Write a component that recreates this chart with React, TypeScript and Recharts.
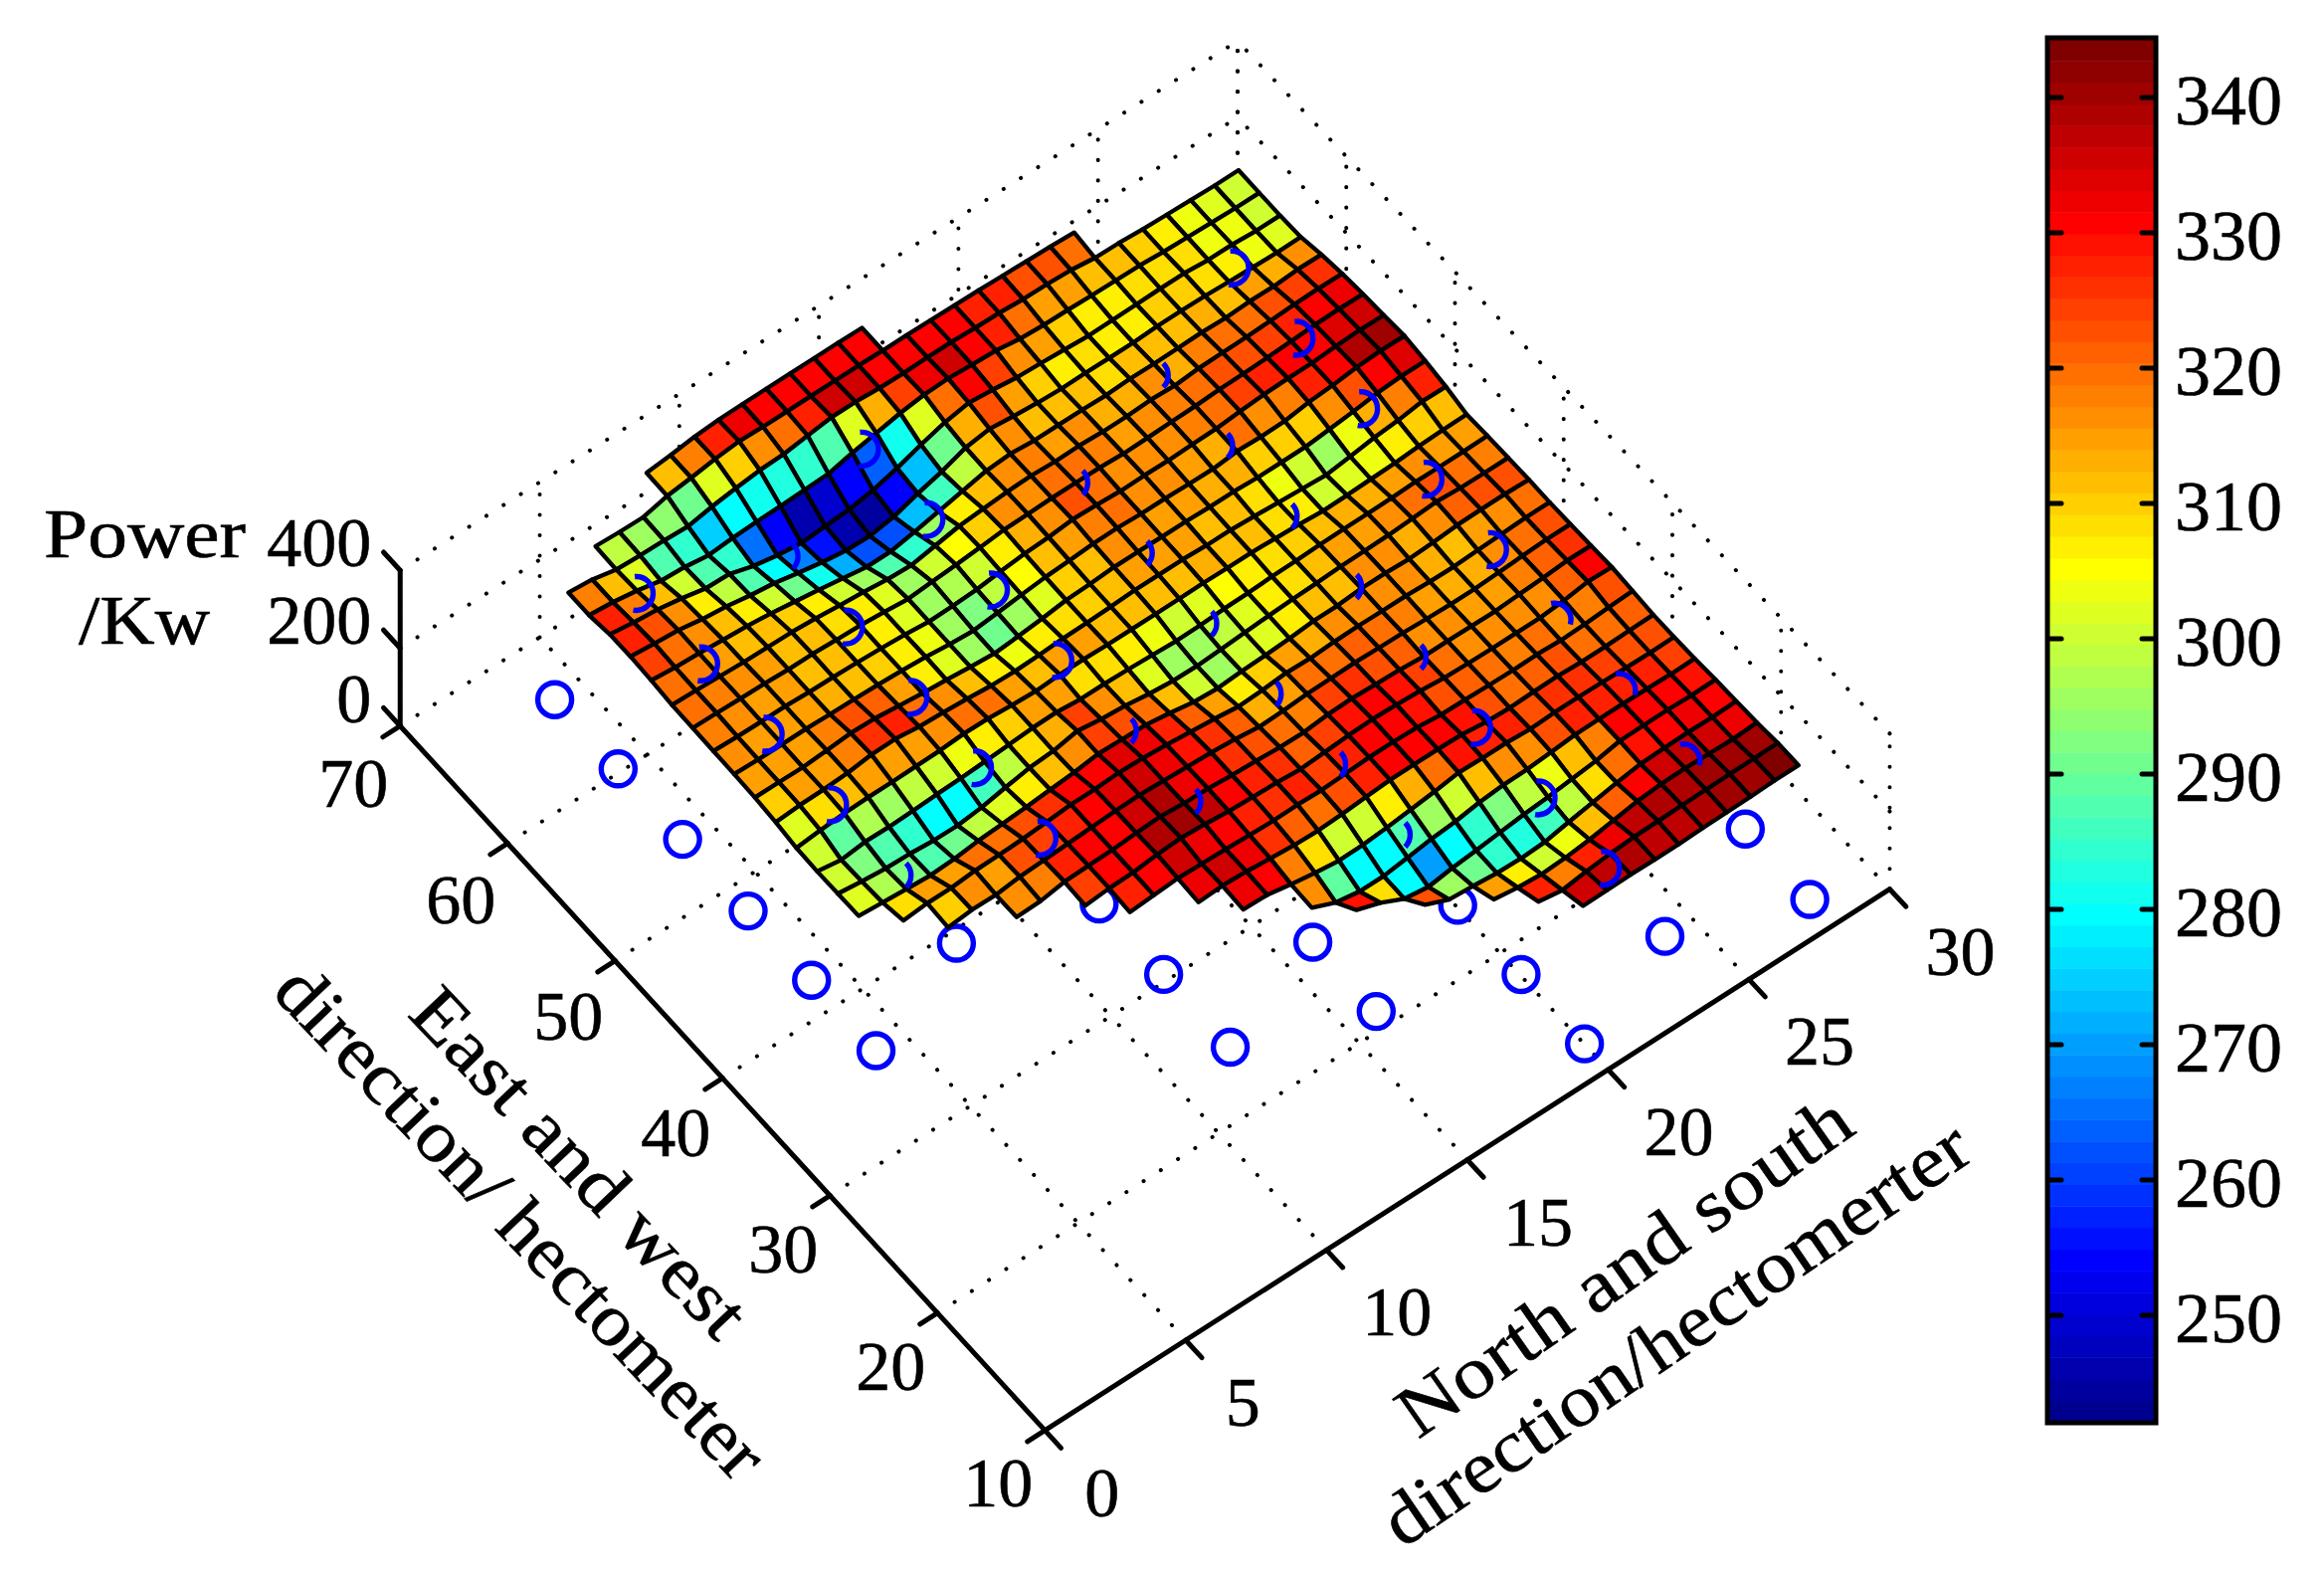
import { ScatterChart, Scatter, XAxis, YAxis } from 'recharts'

const WIDTH = 2336
const HEIGHT = 1583
const K = WIDTH / 1568

// axis values
const EW_TICKS = [10, 20, 30, 40, 50, 60, 70]
const NS_TICKS = [0, 5, 10, 15, 20, 25, 30]
const POWER_TICKS = [0, 200, 400]
const COLORBAR_TICKS = [250, 260, 270, 280, 290, 300, 310, 320, 330, 340]
const COLOR_MIN = 242.1
const COLOR_MAX = 344.3

// surface sampling
const NS_START = 3.8
const NS_STEP = 0.85
const EW_START = 12.2
const EW_STEP = 1.93

// first north-south index that each east-west row starts at
const ROW_START = [19, 18, 17, 15, 13, 12, 10, 9, 7, 6, 4, 2, 1, 0, 0, 0, 0, 0, 0, 0, 0, 0, 0, 0, 0, 0, 0, 0, 2, 5]

// power, one list per east-west row
const POWER_ROW_00 = [336, 337, 338, 337, 337, 339, 340, 341, 343, 343]
const POWER_ROW_01 = [328, 318, 327, 333, 337, 338, 339, 340, 341, 341, 342]
const POWER_ROW_02 = [315, 306, 301, 304, 311, 321, 331, 336, 337, 335, 333, 336]
const POWER_ROW_03 = [322, 296, 291, 285, 283, 286, 298, 309, 320, 329, 331, 332, 331, 333]
const POWER_ROW_04 = [329, 308, 279, 270, 279, 285, 292, 299, 304, 311, 318, 330, 331, 331, 329, 330]
const POWER_ROW_05 = [316, 290, 279, 279, 287, 296, 301, 311, 316, 317, 322, 327, 328, 328, 327, 325, 326]
const POWER_ROW_06 = [332, 330, 318, 308, 300, 301, 306, 313, 320, 329, 327, 327, 323, 326, 326, 325, 323, 322, 323]
const POWER_ROW_07 = [332, 335, 332, 326, 321, 319, 322, 327, 331, 331, 331, 329, 322, 319, 321, 322, 319, 319, 321, 322]
const POWER_ROW_08 = [327, 331, 335, 333, 331, 328, 326, 327, 325, 328, 331, 331, 329, 322, 321, 319, 318, 319, 316, 318, 322, 325]
const POWER_ROW_09 = [325, 330, 331, 338, 341, 337, 331, 328, 326, 321, 325, 329, 331, 329, 325, 319, 317, 316, 316, 316, 321, 330, 328]
const POWER_ROW_10 = [316, 318, 328, 330, 331, 335, 338, 333, 331, 326, 323, 319, 318, 324, 326, 323, 321, 316, 316, 315, 314, 318, 321, 326, 325]
const POWER_ROW_11 = [310, 316, 315, 322, 325, 328, 331, 334, 335, 332, 329, 326, 321, 313, 315, 319, 320, 321, 319, 318, 315, 313, 313, 316, 319, 322, 322]
const POWER_ROW_12 = [309, 314, 314, 319, 320, 322, 326, 331, 331, 334, 332, 327, 321, 315, 307, 310, 315, 313, 316, 317, 316, 316, 313, 312, 315, 317, 320, 320]
const POWER_ROW_13 = [302, 297, 292, 288, 291, 298, 302, 306, 311, 316, 324, 322, 320, 311, 300, 296, 300, 302, 306, 311, 311, 316, 316, 313, 316, 321, 322, 322, 320]
const POWER_ROW_14 = [301, 293, 287, 285, 280, 279, 286, 298, 309, 313, 325, 316, 311, 302, 296, 295, 298, 302, 306, 309, 311, 314, 315, 316, 319, 323, 319, 318, 318]
const POWER_ROW_15 = [300, 290, 297, 296, 298, 301, 303, 306, 310, 314, 315, 309, 309, 307, 304, 301, 302, 305, 306, 309, 310, 312, 313, 313, 314, 316, 315, 315, 316]
const POWER_ROW_16 = [302, 308, 312, 314, 314, 315, 316, 320, 319, 314, 311, 314, 314, 312, 312, 312, 312, 313, 312, 312, 309, 306, 301, 302, 304, 306, 310, 312, 313]
const POWER_ROW_17 = [310, 314, 315, 318, 326, 327, 319, 316, 312, 306, 304, 306, 309, 310, 312, 315, 315, 315, 312, 312, 308, 304, 300, 296, 304, 313, 318, 327, 326]
const POWER_ROW_18 = [315, 315, 314, 318, 323, 321, 314, 307, 302, 296, 291, 296, 302, 310, 312, 316, 316, 315, 315, 313, 313, 310, 310, 310, 316, 322, 330, 334, 334]
const POWER_ROW_19 = [317, 315, 315, 315, 313, 312, 310, 307, 303, 296, 292, 298, 305, 311, 314, 318, 319, 316, 316, 314, 313, 319, 317, 318, 327, 331, 338, 341, 340]
const POWER_ROW_20 = [318, 316, 315, 315, 312, 311, 309, 306, 302, 296, 297, 300, 307, 313, 316, 322, 320, 316, 317, 316, 318, 319, 324, 328, 330, 330, 334, 336, 335]
const POWER_ROW_21 = [319, 318, 316, 315, 312, 312, 309, 307, 302, 296, 301, 305, 310, 316, 317, 319, 319, 318, 315, 316, 318, 319, 322, 323, 325, 328, 331, 332, 331]
const POWER_ROW_22 = [320, 318, 315, 312, 311, 310, 306, 300, 295, 288, 285, 296, 307, 312, 316, 318, 315, 316, 313, 313, 316, 313, 318, 319, 320, 322, 325, 326, 325]
const POWER_ROW_23 = [325, 319, 316, 311, 307, 300, 291, 282, 272, 262, 262, 273, 286, 299, 312, 316, 311, 311, 311, 309, 312, 311, 312, 313, 311, 314, 313, 317, 316]
const POWER_ROW_24 = [328, 322, 317, 306, 299, 288, 280, 267, 255, 246, 244, 254, 274, 291, 313, 322, 315, 310, 307, 308, 307, 307, 310, 310, 309, 306, 304, 302, 303]
const POWER_ROW_25 = [327, 318, 312, 301, 287, 285, 266, 254, 246, 250, 254, 264, 281, 302, 320, 331, 325, 317, 314, 310, 306, 307, 308, 309, 309, 304, 304, 300, 300]
const POWER_ROW_26 = [318, 312, 302, 288, 284, 275, 280, 282, 283, 285, 287, 302, 313, 325, 333, 335, 331, 328, 319, 315, 314, 312, 311, 310, 306, 304, 302, 300, 300]
const POWER_ROW_27 = [318, 312, 298, 295, 294, 291, 302, 310, 317, 319, 327, 335, 335, 331, 330, 331, 331, 328, 327, 323, 322, 319, 311, 310, 306, 304, 302, 300, 300]
const POWER_ROW_28 = [300, 297, 296, 311, 318, 327, 333, 331, 331, 331, 331, 331, 330, 330, 329, 328, 327, 325, 323, 321, 318]
const POWER_ROW_29 = [312, 318, 326, 330, 331, 331, 331, 331, 331, 330]

const POWER_ROWS = [
  POWER_ROW_00, POWER_ROW_01, POWER_ROW_02, POWER_ROW_03, POWER_ROW_04, POWER_ROW_05,
  POWER_ROW_06, POWER_ROW_07, POWER_ROW_08, POWER_ROW_09, POWER_ROW_10, POWER_ROW_11,
  POWER_ROW_12, POWER_ROW_13, POWER_ROW_14, POWER_ROW_15, POWER_ROW_16, POWER_ROW_17,
  POWER_ROW_18, POWER_ROW_19, POWER_ROW_20, POWER_ROW_21, POWER_ROW_22, POWER_ROW_23,
  POWER_ROW_24, POWER_ROW_25, POWER_ROW_26, POWER_ROW_27, POWER_ROW_28, POWER_ROW_29,
]

// turbines as [north-south, east-west]
const TURBINES_OPEN = [
  [4, 36.2], [4, 42.2], [4, 48.1], [4, 54.2], [4, 60.2], [4, 66.1], [8, 39.2],
  [12, 24.2], [12, 30.4], [12, 36.4], [16, 21.1], [16, 27], [20, 12.2], [20, 18.1],
  [20, 24], [24, 15.2], [28, 12.2], [28, 18.2],
]
const TURBINES_WIDE = [
  [8, 51], [8, 57], [8, 63], [8, 69], [12, 42], [12, 48], [12, 54], [12, 60],
  [16, 51], [16, 57], [16, 63], [16, 69], [24, 21], [24, 27], [24, 33],
  [28, 42], [28, 48], [28, 54], [28, 60], [28, 66],
]
const TURBINES_UPPER = [[28, 24], [28, 30], [28, 36]]
const TURBINES_THIN = [
  [8, 45], [12, 66], [16, 39], [16, 45], [20, 30], [20, 36], [20, 42], [20, 48], [20, 54], [20, 60],
  [24, 39], [24, 45], [24, 51], [24, 57], [24, 63],
]

const jet = (value: number) => {
  const t = Math.min(1, Math.max(0, (value - COLOR_MIN) / (COLOR_MAX - COLOR_MIN)))
  const level = (Math.min(63, Math.floor(t * 64)) + 1) / 64
  const clip = (n: number) => Math.round(255 * Math.min(1, Math.max(0, n)))
  const r = clip(Math.min(4 * level - 1.5, -4 * level + 4.5))
  const g = clip(Math.min(4 * level - 0.5, -4 * level + 3.5))
  const b = clip(Math.min(4 * level + 0.5, -4 * level + 2.5))
  return `rgb(${r},${g},${b})`
}

// orthographic camera fitted to the axes
const floorPoint = (x: number, y: number) => [
  (705 + 19 * x - 7.25 * (y - 10)) * K,
  (965 - 12.17 * x - 7.92 * (y - 10)) * K,
]

const surfacePoint = (x: number, y: number, z: number) => {
  const [u, v] = floorPoint(x, y)
  return [u, v - (0.2625 * z + 5.4) * K]
}

// the dotted box shrinks slightly towards the far corner
const boxPoint = (x: number, y: number, z: number) => {
  const [u, v] = floorPoint(x, y)
  const far = (x / 30) * ((y - 10) / 60)
  return [u - 5 * far * K, v + (6 * far - (0.2625 - 0.005 * far) * z) * K]
}

const nodePower = (i: number, j: number) => {
  const row = POWER_ROWS[j]
  if (!row) return undefined
  return row[i - ROW_START[j]]
}

const nodePoint = (i: number, j: number, z: number) =>
  surfacePoint(NS_START + NS_STEP * i, EW_START + EW_STEP * j, z)

const buildCells = () => {
  const cells: any[] = []
  POWER_ROWS.forEach((row, j) => {
    row.forEach((z, n) => {
      const i = ROW_START[j] + n
      const z2 = nodePower(i + 1, j)
      const z3 = nodePower(i + 1, j + 1)
      const z4 = nodePower(i, j + 1)
      if (z2 === undefined || z3 === undefined || z4 === undefined) return
      const [u, v] = nodePoint(i, j, z)
      const corners = [nodePoint(i + 1, j, z2), nodePoint(i + 1, j + 1, z3), nodePoint(i, j + 1, z4)]
      cells.push({ u, v, order: i + j, fill: jet(z), corners: corners.map(([a, b]) => [a - u, b - v]) })
    })
  })
  return cells.sort((a, b) => b.order - a.order)
}

const segment = (a: number[], b: number[]) => ({ u: a[0], v: a[1], du: b[0] - a[0], dv: b[1] - a[1] })

const buildDotted = () => {
  const lines: any[] = []
  NS_TICKS.forEach((x) => {
    if (x > 0) lines.push(segment(boxPoint(x, 10, 0), boxPoint(x, 70, 0)))
    lines.push(segment(boxPoint(x, 70, 0), boxPoint(x, 70, 400)))
  })
  EW_TICKS.forEach((y) => {
    if (y > 10) lines.push(segment(boxPoint(0, y, 0), boxPoint(30, y, 0)))
    lines.push(segment(boxPoint(30, y, 0), boxPoint(30, y, 400)))
  })
  POWER_TICKS.filter((z) => z > 0).forEach((z) => {
    lines.push(segment(boxPoint(0, 70, z), boxPoint(30, 70, z)))
    lines.push(segment(boxPoint(30, 10, z), boxPoint(30, 70, z)))
  })
  return lines
}

const buildSolid = () => {
  const lines = [
    segment(boxPoint(0, 10, 0), boxPoint(30, 10, 0)),
    segment(boxPoint(0, 10, 0), boxPoint(0, 70, 0)),
    segment(boxPoint(0, 70, 0), boxPoint(0, 70, 400)),
  ]
  NS_TICKS.forEach((x) => lines.push(segment(boxPoint(x, 10, 0), boxPoint(x, 8.5, 0))))
  EW_TICKS.forEach((y) => lines.push(segment(boxPoint(0, y, 0), boxPoint(-0.62, y, 0))))
  POWER_TICKS.forEach((z) => lines.push(segment(boxPoint(0, 70, z), boxPoint(0, 71.55, z))))
  return lines
}

const cbY = (value: number) => 98 + (340 - value) * 13.6

const buildColorBands = () => {
  const bands: any[] = []
  for (let n = 0; n < 64; n++) {
    const bottom = COLOR_MIN + ((COLOR_MAX - COLOR_MIN) * n) / 64
    const top = COLOR_MIN + ((COLOR_MAX - COLOR_MIN) * (n + 1)) / 64
    bands.push({ u: 2060, v: cbY(top), w: 105, h: cbY(bottom) - cbY(top) + 0.5, fill: jet((bottom + top) / 2) })
  }
  return bands
}

const buildColorTicks = () => {
  const lines: any[] = []
  COLORBAR_TICKS.forEach((t) => {
    lines.push({ u: 2060, v: cbY(t), du: 12, dv: 0 })
    lines.push({ u: 2165, v: cbY(t), du: -12, dv: 0 })
  })
  return lines
}

const buildText = () => {
  const out: any[] = []
  NS_TICKS.forEach((x) => {
    const [u, v] = boxPoint(x, 10, 0)
    out.push({ u: u + (x >= 10 ? 36 : 40), v: v + 86, label: String(x), anchor: 'start' })
  })
  EW_TICKS.forEach((y) => {
    const [u, v] = boxPoint(0, y, 0)
    out.push({ u: u - 12, v: v + 76 + (y - 10) * 0.09, label: String(y), anchor: 'end' })
  })
  POWER_TICKS.forEach((z) => {
    const [u, v] = boxPoint(0, 70, z)
    out.push({ u: u - 29, v: v - 4, label: String(z), anchor: 'end' })
  })
  COLORBAR_TICKS.forEach((t) => {
    out.push({ u: 2186, v: cbY(t) + 27, label: String(t), anchor: 'start', size: 72 })
  })
  out.push({ u: 44, v: 560, label: 'Power', anchor: 'start', length: 203 })
  out.push({ u: 79, v: 647, label: '/Kw', anchor: 'start', length: 132 })
  out.push({ u: 583, v: 1168, label: 'East and west', anchor: 'middle', rotate: 46.5, length: 455, size: 74, central: true })
  out.push({ u: 524, v: 1228, label: 'direction/ hectometer', anchor: 'middle', rotate: 46.5, length: 680, size: 74, central: true })
  out.push({ u: 1632, v: 1272, label: 'North and south', anchor: 'middle', rotate: -35, length: 540, size: 74, central: true })
  out.push({ u: 1684, v: 1340, label: 'direction/hectomerter', anchor: 'middle', rotate: -34.3, length: 698, size: 74, central: true })
  return out
}

const turbinePoints = (list: number[][]) =>
  list.map(([x, y]) => {
    const [u, v] = floorPoint(x, y)
    return { u, v }
  })

const CellShape = ({ cx, cy, payload }: any) => (
  <polygon
    points={[[0, 0], ...payload.corners].map(([a, b]: number[]) => `${cx + a},${cy + b}`).join(' ')}
    fill={payload.fill}
    stroke="#000"
    strokeWidth={4.3}
    strokeLinejoin="round"
  />
)

const DottedShape = ({ cx, cy, payload }: any) => (
  <line
    x1={cx}
    y1={cy}
    x2={cx + payload.du}
    y2={cy + payload.dv}
    stroke="#000"
    strokeWidth={4}
    strokeLinecap="round"
    strokeDasharray="0.1 20.4"
  />
)

const SolidShape = ({ cx, cy, payload }: any) => (
  <line x1={cx} y1={cy} x2={cx + payload.du} y2={cy + payload.dv} stroke="#000" strokeWidth={5} strokeLinecap="round" />
)

const CircleShape = ({ cx, cy }: any) => <circle cx={cx} cy={cy} r={17} fill="none" stroke="#0000ff" strokeWidth={5.4} />

const arcShape = (fromDeg: number, toDeg: number) => ({ cx, cy }: any) => {
  const r = 17
  const a = (fromDeg * Math.PI) / 180
  const b = (toDeg * Math.PI) / 180
  const large = toDeg - fromDeg > 180 ? 1 : 0
  return (
    <path
      d={`M${cx + r * Math.cos(a)} ${cy + r * Math.sin(a)}A${r} ${r} 0 ${large} 1 ${cx + r * Math.cos(b)} ${cy + r * Math.sin(b)}`}
      fill="none"
      stroke="#0000ff"
      strokeWidth={5.4}
    />
  )
}

const BandShape = ({ cx, cy, payload }: any) => (
  <rect x={cx} y={cy} width={payload.w} height={payload.h} fill={payload.fill} />
)

const FrameShape = ({ cx, cy }: any) => <rect x={cx} y={cy} width={109} height={1392} fill="none" stroke="#000" strokeWidth={5} />

const TextShape = ({ cx, cy, payload }: any) => (
  <text
    x={cx}
    y={cy}
    textAnchor={payload.anchor}
    dominantBaseline={payload.central ? 'central' : undefined}
    fontFamily="'Liberation Serif', serif"
    fontSize={payload.size ?? 70}
    fill="#000"
    stroke="#000"
    strokeWidth={0.6}
    textLength={payload.length}
    lengthAdjust={payload.length ? 'spacingAndGlyphs' : undefined}
    transform={payload.rotate ? `rotate(${payload.rotate} ${cx} ${cy})` : undefined}
  >
    {payload.label}
  </text>
)

export default function App() {
  return (
    <div style={{ position: 'absolute', left: 0, top: 0, width: WIDTH, height: HEIGHT, background: '#fff' }}>
      <ScatterChart width={WIDTH} height={HEIGHT} margin={{ top: 0, right: 0, bottom: 0, left: 0 }}>
        <XAxis type="number" dataKey="u" domain={[0, WIDTH]} hide />
        <YAxis type="number" dataKey="v" domain={[0, HEIGHT]} reversed hide />
        <Scatter data={buildDotted()} shape={DottedShape} isAnimationActive={false} />
        <Scatter data={turbinePoints(TURBINES_OPEN)} shape={CircleShape} isAnimationActive={false} />
        <Scatter data={buildCells()} shape={CellShape} isAnimationActive={false} />
        <Scatter data={turbinePoints(TURBINES_WIDE)} shape={arcShape(-95, 100)} isAnimationActive={false} />
        <Scatter data={turbinePoints(TURBINES_UPPER)} shape={arcShape(-100, 15)} isAnimationActive={false} />
        <Scatter data={turbinePoints(TURBINES_THIN)} shape={arcShape(-45, 45)} isAnimationActive={false} />
        <Scatter data={buildSolid()} shape={SolidShape} isAnimationActive={false} />
        <Scatter data={buildColorBands()} shape={BandShape} isAnimationActive={false} />
        <Scatter data={[{ u: 2058, v: 38 }]} shape={FrameShape} isAnimationActive={false} />
        <Scatter data={buildColorTicks()} shape={SolidShape} isAnimationActive={false} />
        <Scatter data={buildText()} shape={TextShape} isAnimationActive={false} />
      </ScatterChart>
    </div>
  )
}
